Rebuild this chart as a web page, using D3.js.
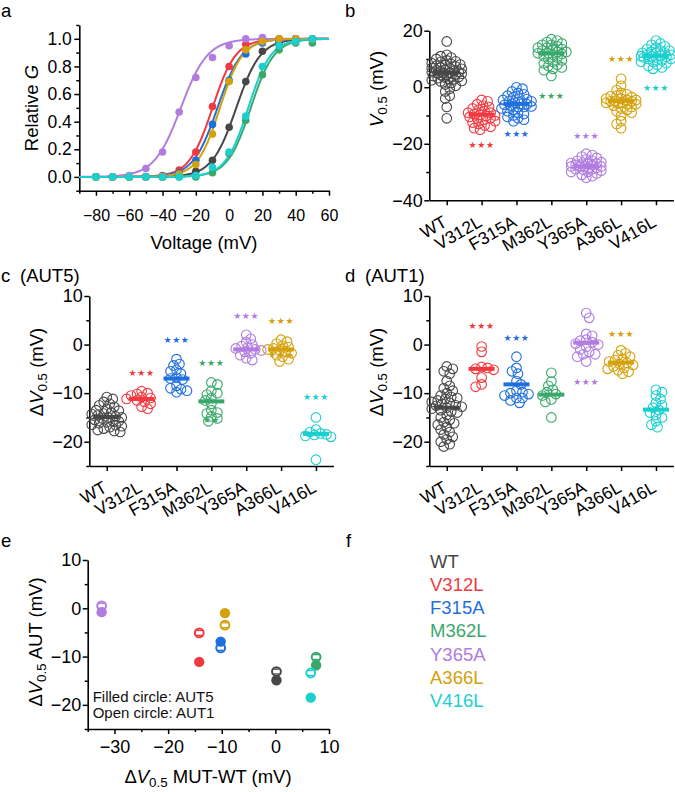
<!DOCTYPE html>
<html><head><meta charset="utf-8">
<script src="https://cdn.jsdelivr.net/npm/d3@7"></script>
<style>body{margin:0;background:#fff} text{font-family:"Liberation Sans",Arial,sans-serif}</style>
</head><body><svg id="c" width="675" height="792"></svg>
<script>
// ---------------- DATA ----------------
const categories = ["WT","V312L","F315A","M362L","Y365A","A366L","V416L"];
const colors = ["#474747","#f2393f","#1f6fdd","#3aa86b","#b07ce0","#d4a00b","#1ccfcf"];

// panel a: relative G vs voltage (points) and Boltzmann fit parameters
const voltages = [-80,-70,-60,-50,-40,-30,-20,-10,0,10,20,30,40,50];
const gWT    = [0,0,0,0,0,0.01,0.04,0.12,0.36,0.69,0.91,0.97,1.0,1.0];
const gV312L = [0,0,0,0,0.01,0.05,0.18,0.51,0.80,0.96,1.0,1.0,1.0,1.0];
const gF315A = [0,0,0,0,0,0.03,0.12,0.38,0.70,0.89,0.97,0.99,1.0,1.0];
const gM362L = [0,0,0,0,0,0,0,0.03,0.17,0.41,0.74,0.92,0.97,0.97];
const gY365A = [0,0,0.01,0.06,0.18,0.47,0.72,0.865,0.95,1.0,1.01,1.0,1.0,1.0];
const gA366L = [0,0,0,0,0,0.02,0.09,0.31,0.69,0.92,0.98,1.0,1.0,1.0];
const gV416L = [0,0,0,0,0,0,0.01,0.07,0.18,0.44,0.80,0.95,0.98,1.0];
const fitV50 = [4.3,-10,-7,13,-29,-5.5,11.5];
const fitK   = [7.3,7.0,7.3,7.0,8.0,6.8,6.8];

// panel b: V0.5 (mV)
const bWT = [16.2,11.5,11,10.5,10,9.5,9,8.5,8.2,8,7.6,7.3,7,6.8,6.5,6.2,6,5.8,5.5,5.3,5,4.8,4.5,4.3,4,3.8,3.5,3.2,3,2.8,2.5,2,1.5,1,0.5,-0.5,-1.5,-3,-4,-7,-11,6.7,5.6,4.9,7.8,3.6,2.2,9.2,5.1,4.4];
const bV312L = [-4.5,-5,-6,-6.5,-7,-7.5,-8,-8.5,-9,-9,-9.5,-9.8,-10,-10.2,-10.5,-11,-11,-11.5,-12,-12.5,-13,-13.5,-14,-14.5,-15];
const bF315A = [0,-0.5,-1.5,-2,-2.5,-3,-3.5,-4,-4.5,-5,-5,-5.5,-5.8,-6,-6.2,-6.5,-7,-7,-7.5,-8,-8.5,-9,-9.5,-10,-10.5,-11,-11.5,-12,-4.2,-6.8];
const bM362L = [17,16.5,16,15.5,15,15,14.5,14,14,13.5,13,12.5,12.5,12,12,11.5,11,10.5,10,9.5,9,8.5,8,7.5,7,6.5,6,4,13.2,11.8];
const bY365A = [-23.5,-24,-24.5,-25,-25.5,-26,-26,-26.5,-27,-27,-27.5,-27.5,-28,-28,-28,-28.5,-28.5,-29,-29,-29.5,-30,-30,-30.5,-31,-31.5,-32,-27.2,-28.2,-26.8,-29.2];
const bA366L = [3,0.5,-1,-2,-2.5,-3,-3.5,-4,-4,-4.5,-4.5,-5,-5,-5.5,-5.5,-6,-6,-6.5,-7,-7.5,-8,-8.5,-9,-10,-12,-14.5,-13,-3.2,-4.8,-5.8];
const bV416L = [16.5,15.5,15,14.5,14,13.5,13,13,12.5,12,12,11.5,11.5,11,11,10.5,10.5,10,10,9.5,9,9,8.5,8,7.5,7,6.5,11.2,10.8,12.2];
const bMeans = [5.2,-9.7,-5.9,12.0,-28.0,-4.8,11.1];
const bStars = [[1,-20.6,3],[2,-16.6,3],[3,-3,3],[4,-17.1,3],[5,10,3],[6,-0.4,3]];

// panel c: ΔV0.5 AUT5 (mV)
const cWT = [-10.8,-11.2,-11.8,-12.2,-12.8,-13.2,-13.6,-14,-14.3,-14.6,-14.8,-15,-15,-15.2,-15.5,-15.7,-16,-16.2,-16.5,-16.8,-17,-17.3,-17.6,-17.8,-18,-14.2,-15.8,-16.6,-13.5,-12.5];
const cV312L = [-9.6,-10,-10.2,-10.5,-10.8,-11,-11.2,-11.5,-11.8,-12.2,-12.8,-13.2];
const cF315A = [-3,-4,-4.3,-5.2,-5.5,-6,-6.8,-7,-7.2,-8.5,-9,-9.2,-9.5,-9.8];
const cM362L = [-7.8,-8.2,-9.5,-10,-10.3,-11,-11.5,-12.2,-13.5,-14,-14.2,-14.8,-15.2,-15.8];
const cY365A = [2,1.2,0.5,0,-0.3,-0.6,-0.8,-1,-1.2,-1.5,-1.8,-2.2,-2.8,-3.2];
const cA366L = [1,0.6,0.2,-0.2,-0.5,-0.8,-1,-1.2,-1.5,-1.8,-2.2,-2.5,-3,-3.5];
const cV416L = [-15,-17.5,-18,-18.3,-18.5,-18.6,-18.8,-19,-23.7];
const cMeans = [-14.9,-11.2,-7.0,-11.7,-1.0,-1.0,-18.4];
const cStars = [[1,-5.8,3],[2,0.9,3],[3,-3.8,3],[3,-15.6,2],[4,5.8,3],[5,4.9,3],[5,-2.2,3],[6,-10.8,3]];

// panel d: ΔV0.5 AUT1 (mV)
const dWT = [-4.5,-5,-5.5,-6,-7.5,-8.5,-9,-9.5,-10,-10.5,-11,-11.2,-11.5,-11.8,-12,-12.2,-12.5,-12.8,-13,-13.2,-13.5,-14,-14.5,-15,-15.5,-16,-16.5,-17,-17.5,-18,-18.5,-19,-19.5,-20,-20.5,-21,-13.8,-12.6,-16.2,-10.8];
const dV312L = [-0.4,-1.5,-4.6,-4.8,-5,-5.2,-6.8,-8.2,-8.7];
const dF315A = [-2.5,-4.8,-5.5,-6,-7.5,-8.2,-9.5,-9.8,-10,-10.2,-10.5,-11,-11,-11.5,-12];
const dM362L = [-5.8,-7.6,-8.5,-9.3,-9.8,-10.2,-10.5,-11.3,-11.8,-15];
const dY365A = [6.5,5.5,2.2,1.8,1,0.8,0.5,0,-0.5,-1,-1.5,-2,-2,-2.5,-3.5,0.2];
const dA366L = [-1.2,-1.8,-2.2,-2.5,-3,-3.2,-3.5,-3.8,-4,-4.2,-4.5,-4.8,-5,-5.3,-5.6,-6];
const dV416L = [-9.3,-9.8,-10.5,-11.2,-12,-12.5,-13,-13.5,-14,-14.5,-15,-15.8,-16.5,-17];
const dMeans = [-13.0,-5.0,-8.2,-10.3,0.4,-3.7,-13.4];
const dStars = [[1,3.8,3],[2,1.4,3],[4,-7.7,3],[5,2.1,3]];

// panel e
const eShift = [0.2,-14.2,-10.2,7.6,-32.4,-9.4,6.6];
const eAUT5  = [-14.9,-11.1,-6.9,-11.8,-0.8,-1.0,-18.5];
const eAUT1  = [-13.1,-5.1,-8.2,-10.1,0.5,-3.5,-13.4];
const eErr   = [0.5,0.5,0.5,0.5,0.5,0.5,0.5];

// ---------------- DRAWING ----------------
const svg = d3.select("#c");
const FONT = '"Liberation Sans",Arial,sans-serif';

function styleAxis(g,fs){
  g.selectAll("path.domain").attr("stroke","#000").attr("stroke-width",1.6);
  g.selectAll(".tick line").attr("stroke","#000").attr("stroke-width",1.5);
  g.selectAll(".tick text").attr("font-size",fs).attr("fill","#000").style("font-family",FONT);
}
function minorAxis(parent, axisFn, scale, vals, transform){
  const g = parent.append("g").attr("transform",transform)
    .call(axisFn(scale).tickValues(vals).tickSize(3).tickFormat(""));
  g.select("path.domain").remove();
  g.selectAll(".tick line").attr("stroke","#000").attr("stroke-width",1.5);
}
function rotTitle(x,y,parts,size){
  const t = svg.append("text").attr("transform",`translate(${x},${y}) rotate(-90)`)
    .attr("text-anchor","middle").attr("font-size",size).attr("fill","#000");
  addParts(t,parts,size);
}
function addParts(t,parts,size){
  let shifted=false;
  parts.forEach(p=>{
    const s=t.append("tspan").text(p.t);
    if(p.i) s.attr("font-style","italic");
    if(p.sub){ s.attr("font-size",size*0.72).attr("dy",4); shifted=true; }
    else if(shifted){ s.attr("dy",-4); shifted=false; }
  });
}
function label(x,y,txt){
  svg.append("text").attr("x",x).attr("y",y).attr("font-size",18.5).attr("fill","#000").text(txt);
}
const fmtMinus = d=>String(d).replace("-","\u2212");

// ---- panel a ----
(function(){
  const x = d3.scaleLinear().domain([-90,60]).range([79.3,329]);
  const y = d3.scaleLinear().domain([-0.1,1.1]).range([190.7,25]);
  const series = [gWT,gV312L,gF315A,gM362L,gY365A,gA366L,gV416L];
  const g = svg.append("g");
  const gx = g.append("g").attr("transform",`translate(0,${y(-0.1)})`)
    .call(d3.axisBottom(x).tickValues(d3.range(-80,61,20)).tickSize(5).tickPadding(14).tickSizeOuter(0).tickFormat(fmtMinus));
  styleAxis(gx,16);
  minorAxis(g,d3.axisBottom,x,d3.range(-90,60,20),`translate(0,${y(-0.1)})`);
  const gy = g.append("g").attr("transform",`translate(${x(-90)},0)`)
    .call(d3.axisLeft(y).tickValues([0,0.2,0.4,0.6,0.8,1.0]).tickSize(5).tickPadding(2.5).tickSizeOuter(0).tickFormat(d3.format(".1f")));
  styleAxis(gy,17.5);
  minorAxis(g,d3.axisLeft,y,[-0.1,0.1,0.3,0.5,0.7,0.9,1.1],`translate(${x(-90)},0)`);
  const vs = d3.range(-90,60.01,0.5);
  const line = d3.line().x(d=>x(d[0])).y(d=>y(d[1]));
  fitV50.forEach((v50,i)=>{
    g.append("path").attr("d",line(vs.map(v=>[v,1/(1+Math.exp((v50-v)/fitK[i]))])))
      .attr("fill","none").attr("stroke",colors[i]).attr("stroke-width",2);
  });
  series.forEach((s,i)=>{
    g.append("g").selectAll("circle").data(s).join("circle")
      .attr("cx",(d,j)=>x(voltages[j])).attr("cy",d=>y(d)).attr("r",3.8).attr("fill",colors[i]);
  });
  label(1,17,"a");
  rotTitle(38,108,[{t:"Relative "},{t:"G",i:true}],18.5);
  svg.append("text").attr("x",204).attr("y",249).attr("text-anchor","middle").attr("font-size",18.5).text("Voltage (mV)");
})();

// ---- beeswarm-like layout (deterministic) ----
function swarm(vals, y, minD, maxOff){
  const idx = vals.map((v,i)=>i).sort((a,b)=>vals[b]-vals[a]);
  const placed=[]; const off=new Array(vals.length);
  idx.forEach((i,n)=>{
    const py=y(vals[i]); let best=0,bestD=-1,found=false;
    for(let k=0;k<=maxOff && !found;k+=1.5){
      const cands = k===0?[0]:(n%2?[k,-k]:[-k,k]);
      for(const s of cands){
        let md=Infinity;
        for(const p of placed){const d=Math.hypot(p[0]-s,p[1]-py); if(d<md) md=d;}
        if(md>=minD){best=s;found=true;break;}
        if(md>bestD){bestD=md;best=s;}
      }
    }
    off[i]=best; placed.push([best,py]);
  });
  return off;
}

function catPanel(opt){
  const x = d3.scaleLinear().domain([-0.5,6.5]).range(opt.xr);
  const y = d3.scaleLinear().domain(opt.yd).range(opt.yr);
  const g = svg.append("g");
  const gx = g.append("g").attr("transform",`translate(0,${opt.yr[0]})`)
    .call(d3.axisBottom(x).tickValues(d3.range(7)).tickSize(5).tickSizeOuter(0).tickFormat(i=>categories[i]));
  styleAxis(gx,17.5);
  gx.selectAll(".tick text").attr("y",null).attr("dy",null).attr("text-anchor","end")
    .attr("transform","translate(1,25) rotate(-30)");
  const gy = g.append("g").attr("transform",`translate(${opt.xr[0]},0)`)
    .call(d3.axisLeft(y).tickValues(opt.major).tickSize(5).tickPadding(1.5).tickSizeOuter(0).tickFormat(fmtMinus));
  styleAxis(gy,18);
  minorAxis(g,d3.axisLeft,y,opt.minor,`translate(${opt.xr[0]},0)`);
  opt.data.forEach((vals,i)=>{
    const off = swarm(vals,y,5.2,16);
    g.append("g").selectAll("circle").data(vals).join("circle")
      .attr("cx",(d,j)=>x(i)+off[j]).attr("cy",d=>y(d)).attr("r",4.8)
      .attr("fill","none").attr("stroke",colors[i]).attr("stroke-width",1.1);
  });
  opt.means.forEach((m,i)=>{
    g.append("line").attr("x1",x(i)-13).attr("x2",x(i)+13).attr("y1",y(m)).attr("y2",y(m))
      .attr("stroke",colors[i]).attr("stroke-width",4);
  });
  opt.stars.forEach(s=>{
    g.append("text").attr("x",x(s[0])).attr("y",y(s[1])).attr("text-anchor","middle")
      .attr("dominant-baseline","central").style("font-family","'DejaVu Sans'")
      .attr("font-size",9).attr("letter-spacing",0.6).attr("fill",colors[s[0]])
      .text("\u2605".repeat(s[2]));
  });
}

// ---- panel b ----
catPanel({xr:[429.3,673.4], yd:[-40,20], yr:[200.3,30.7], major:[-40,-20,0,20], minor:[-30,-10,10],
  data:[bWT,bV312L,bF315A,bM362L,bY365A,bA366L,bV416L], means:bMeans, stars:bStars});
label(345,17,"b");
rotTitle(383,89,[{t:"V",i:true},{t:"0.5",sub:true},{t:" (mV)"}],18.5);

// ---- panel c ----
catPanel({xr:[89.3,333.4], yd:[-25,10], yr:[466,296], major:[-20,-10,0,10], minor:[-25,-15,-5,5],
  data:[cWT,cV312L,cF315A,cM362L,cY365A,cA366L,cV416L], means:cMeans, stars:cStars});
label(1,282,"c");
label(20,282,"(AUT5)");
rotTitle(43,372,[{t:"\u0394"},{t:"V",i:true},{t:"0.5",sub:true},{t:" (mV)"}],18.5);

// ---- panel d ----
catPanel({xr:[429.3,673.4], yd:[-25,10], yr:[466,296], major:[-20,-10,0,10], minor:[-25,-15,-5,5],
  data:[dWT,dV312L,dF315A,dM362L,dY365A,dA366L,dV416L], means:dMeans, stars:dStars});
label(345,282,"d");
label(365,282,"(AUT1)");
rotTitle(383,372,[{t:"\u0394"},{t:"V",i:true},{t:"0.5",sub:true},{t:" (mV)"}],18.5);

// ---- panel e ----
(function(){
  const x = d3.scaleLinear().domain([-35,10]).range([87.7,329]);
  const y = d3.scaleLinear().domain([-25,10]).range([729,560]);
  const g = svg.append("g");
  const gx = g.append("g").attr("transform",`translate(0,${y(-25)})`)
    .call(d3.axisBottom(x).tickValues([-30,-20,-10,0,10]).tickSize(5).tickPadding(6).tickSizeOuter(0).tickFormat(fmtMinus));
  styleAxis(gx,18);
  minorAxis(g,d3.axisBottom,x,[-35,-25,-15,-5,5],`translate(0,${y(-25)})`);
  const gy = g.append("g").attr("transform",`translate(${x(-35)},0)`)
    .call(d3.axisLeft(y).tickValues([-20,-10,0,10]).tickSize(5).tickPadding(1.5).tickSizeOuter(0).tickFormat(fmtMinus));
  styleAxis(gy,18);
  minorAxis(g,d3.axisLeft,y,[-25,-15,-5,5],`translate(${x(-35)},0)`);
  const r=5.2;
  categories.forEach((c,i)=>{
    g.append("circle").attr("cx",x(eShift[i])).attr("cy",y(eAUT1[i])).attr("r",r-0.8)
      .attr("fill","#fff").attr("stroke",colors[i]).attr("stroke-width",2);
    [eAUT1[i]-eErr[i], eAUT1[i]+eErr[i]].forEach(v=>{
      g.append("line").attr("x1",x(eShift[i])-3).attr("x2",x(eShift[i])+3).attr("y1",y(v)).attr("y2",y(v))
        .attr("stroke",colors[i]).attr("stroke-width",1.3);
    });
    g.append("circle").attr("cx",x(eShift[i])).attr("cy",y(eAUT5[i])).attr("r",r).attr("fill",colors[i]);
  });
  g.append("text").attr("x",92.7).attr("y",701.5).attr("font-size",15).attr("fill","#111").text("Filled circle: AUT5");
  g.append("text").attr("x",92.7).attr("y",718.3).attr("font-size",15).attr("fill","#111").text("Open circle: AUT1");
  label(1,547,"e");
  rotTitle(42,642,[{t:"\u0394"},{t:"V",i:true},{t:"0.5",sub:true},{t:" AUT (mV)"}],18.5);
  const t = svg.append("text").attr("x",208).attr("y",783).attr("text-anchor","middle").attr("font-size",18.5);
  addParts(t,[{t:"\u0394"},{t:"V",i:true},{t:"0.5",sub:true},{t:" MUT-WT (mV)"}],18.5);
})();

// ---- panel f (legend) ----
label(346,547,"f");
svg.append("g").selectAll("text").data(categories).join("text")
  .attr("x",430).attr("y",(d,i)=>568.3+i*23.05).attr("font-size",18.5)
  .attr("fill",(d,i)=>colors[i]).text(d=>d);
</script></body></html>
